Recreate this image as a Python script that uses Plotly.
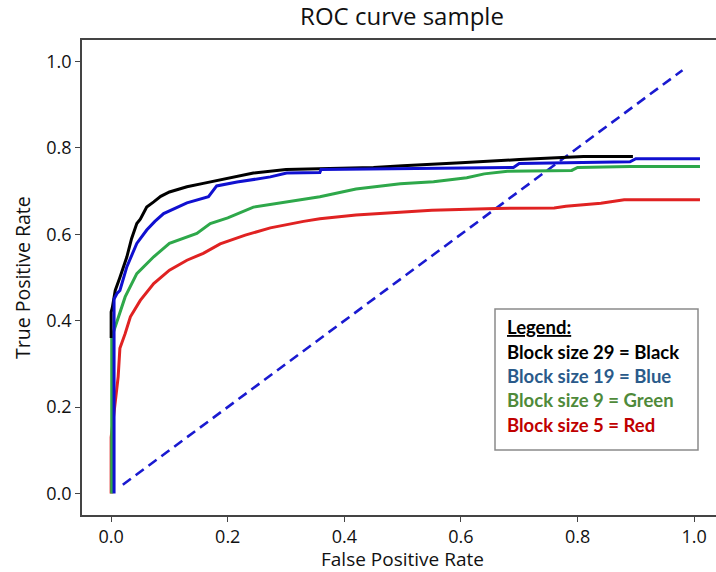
import plotly.graph_objects as go

# ---- data ----
black_x = [0.0, 0.0, 0.002, 0.005, 0.007, 0.015, 0.02, 0.027, 0.035, 0.044, 0.05, 0.061, 0.073, 0.085,
           0.1, 0.13, 0.158, 0.2, 0.244, 0.3, 0.36, 0.45, 0.5, 0.553, 0.6, 0.7, 0.81, 0.895]
black_y = [0.36, 0.42, 0.43, 0.45, 0.47, 0.50, 0.52, 0.548, 0.59, 0.625, 0.635, 0.663, 0.675, 0.688,
           0.698, 0.71, 0.718, 0.73, 0.742, 0.75, 0.752, 0.755, 0.759, 0.762, 0.766, 0.773, 0.78, 0.78]

blue_x = [0.005, 0.005, 0.01, 0.015, 0.027, 0.044, 0.061, 0.075, 0.09, 0.13, 0.167, 0.175, 0.181,
          0.216, 0.273, 0.301, 0.358, 0.36, 0.5, 0.61, 0.69, 0.70, 0.89, 0.90, 1.01]
blue_y = [0.0, 0.45, 0.463, 0.47, 0.525, 0.579, 0.61, 0.63, 0.648, 0.673, 0.687, 0.70, 0.712,
          0.721, 0.733, 0.742, 0.743, 0.75, 0.752, 0.754, 0.755, 0.764, 0.768, 0.775, 0.775]

green_x = [0.001, 0.001, 0.008, 0.015, 0.024, 0.044, 0.073, 0.1, 0.147, 0.17, 0.2, 0.244, 0.301,
           0.358, 0.42, 0.496, 0.553, 0.61, 0.64, 0.68, 0.79, 0.80, 0.89, 1.01]
green_y = [0.0, 0.362, 0.39, 0.417, 0.455, 0.509, 0.548, 0.579, 0.602, 0.625, 0.638, 0.663, 0.675,
           0.687, 0.705, 0.717, 0.722, 0.731, 0.740, 0.746, 0.748, 0.755, 0.757, 0.757]

red_x = [0.0, 0.0, 0.012, 0.013, 0.015, 0.024, 0.033, 0.05, 0.073, 0.1, 0.13, 0.158, 0.187, 0.23,
         0.273, 0.33, 0.358, 0.42, 0.496, 0.55, 0.66, 0.76, 0.78, 0.84, 0.88, 1.01]
red_y = [0.0, 0.13, 0.27, 0.30, 0.336, 0.37, 0.409, 0.447, 0.486, 0.517, 0.54, 0.556, 0.578, 0.598,
         0.615, 0.63, 0.636, 0.645, 0.652, 0.656, 0.66, 0.661, 0.665, 0.672, 0.68, 0.68]

diag_x = [0.02, 0.98]
diag_y = [0.02, 0.98]

tick_vals = [0.0, 0.2, 0.4, 0.6, 0.8, 1.0]
tick_text = ["0.0", "0.2", "0.4", "0.6", "0.8", "1.0"]

legend_title = "Legend:"
legend_lines = ["Block size 29 = Black", "Block size 19 = Blue", "Block size 9 = Green", "Block size 5 = Red"]
legend_colors = ["#000000", "#2a5a8a", "#4f8a3a", "#c00000"]

FONT = "Open Sans"
LFONT = "Lato"
TXT = "#111111"

fig = go.Figure()
fig.add_trace(go.Scatter(x=diag_x, y=diag_y, mode="lines",
                         line=dict(color="#1a1ad0", width=2.6, dash="10px,6px"), hoverinfo="skip"))
fig.add_trace(go.Scatter(x=red_x, y=red_y, mode="lines", line=dict(color="#e02222", width=3)))
fig.add_trace(go.Scatter(x=green_x, y=green_y, mode="lines", line=dict(color="#2ea84a", width=3)))
fig.add_trace(go.Scatter(x=black_x, y=black_y, mode="lines", line=dict(color="#000000", width=3)))
fig.add_trace(go.Scatter(x=blue_x, y=blue_y, mode="lines", line=dict(color="#1010d0", width=3)))

axis_common = dict(
    showgrid=False, zeroline=False, showline=True, linecolor="#444444", linewidth=1.6,
    ticks="outside", ticklen=5, tickwidth=1.4, tickcolor="#444444",
    tickvals=tick_vals, ticktext=tick_text, automargin=False,
    tickfont=dict(family=FONT, size=18, color=TXT),
)
fig.update_xaxes(range=[-0.05, 1.0375], mirror=True, **axis_common)
fig.update_yaxes(range=[-0.05, 1.05], **axis_common)

W, H = 716, 572
L, R, T, B = 82, 0, 40, 57
pw, ph = W - L - R, H - T - B

def px(xp):
    return (xp - L) / pw

def py(yp):
    return (H - B - yp) / ph

# axis titles
fig.add_annotation(xref="paper", yref="paper", x=px(402), y=py(559), xanchor="center", yanchor="middle",
                   text="False Positive Rate", showarrow=False, font=dict(family=FONT, size=19, color=TXT))
fig.add_annotation(xref="paper", yref="paper", x=px(22), y=py(278), xanchor="center", yanchor="middle",
                   text="True Positive Rate", showarrow=False, textangle=-90,
                   font=dict(family=FONT, size=19.5, color=TXT))

# legend box
fig.add_shape(type="rect", xref="paper", yref="paper",
              x0=px(495), x1=px(698), y0=py(450), y1=py(309),
              line=dict(color="#8a8a8a", width=1.5), fillcolor="white", layer="above")
fig.add_annotation(xref="paper", yref="paper", x=px(505), y=py(327), xanchor="left", yanchor="middle",
                   text="<b><u>" + legend_title + "</u></b>", showarrow=False,
                   font=dict(family=LFONT, size=18.5, color="#000000"))
line_ys = [352, 376, 400, 425]
for txt, col, yy in zip(legend_lines, legend_colors, line_ys):
    fig.add_annotation(xref="paper", yref="paper", x=px(505), y=py(yy), xanchor="left", yanchor="middle",
                       text="<b>" + txt + "</b>", showarrow=False,
                       font=dict(family=LFONT, size=18.5, color=col))

fig.update_layout(
    width=W, height=H, margin=dict(l=L, r=R, t=T, b=B),
    paper_bgcolor="white", plot_bgcolor="white", showlegend=False,
    title=dict(text="ROC curve sample", x=px(402), xref="paper", xanchor="center",
               y=1 - 17 / H, yanchor="middle", font=dict(family=FONT, size=24, color=TXT)),
)
fig.write_html("out.html", config={"displayModeBar": False},
               post_script="document.body.style.margin='0';document.body.style.overflow='hidden';")
